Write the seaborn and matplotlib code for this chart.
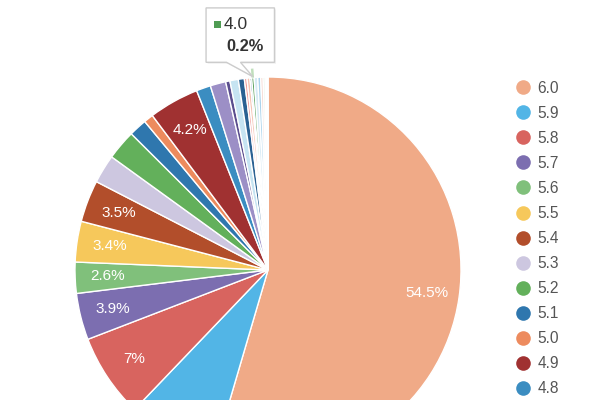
import numpy as np
import matplotlib
matplotlib.use("Agg")
import matplotlib.pyplot as plt
from matplotlib.lines import Line2D
from matplotlib.patches import Wedge, Polygon, Rectangle
import seaborn as sns

# magnitude classes and their share of events (percent)
magnitudes = ['6.0', '5.9', '5.8', '5.7', '5.6', '5.5', '5.4', '5.3', '5.2', '5.1',
              '5.0', '4.9', '4.8', '4.7', '4.6', '4.5', '4.4', '4.3', '4.2', '4.1',
              '4.0', '3.9', '3.8', '3.7', '3.6', '3.5', '3.4', '3.3']
shares = [54.5, 7.6, 7.0, 3.9, 2.6, 3.4, 3.5, 2.4, 2.5, 1.5,
          0.8, 4.2, 1.2, 1.3, 0.36, 0.7, 0.5, 0.22, 0.25, 0.14,
          0.2, 0.3, 0.25, 0.2, 0.15, 0.12, 0.08, 0.05]
colors = ['#f0aa87', '#52b5e6', '#d8645f', '#7c6eb0', '#80c07b', '#f6c85b', '#b24e2b',
          '#cdc7e0', '#63b05b', '#2f77ae', '#ed8b5e', '#a03131', '#3b8dc1', '#9c8fc6',
          '#5b4e8e', '#c6e4f2', '#2a6192', '#ef9d9c', '#f6c3b2', '#245f8f', '#4f9c53',
          '#d6eaf5', '#a9d3ec', '#f3d4cc', '#b9dcb5', '#e6e0f0', '#9fc9e6', '#f2b8a8']
hovered = '4.0'

sns.set_theme(style="white")
plt.rcParams['font.family'] = ['Liberation Sans', 'DejaVu Sans']

total = sum(shares)


def pct_label(p):
    if p < 2.55:
        return ''
    return f"{round(p, 1):g}%"


fig = plt.figure(figsize=(6, 4), dpi=100)
ax = fig.add_axes([0, 0, 1, 1])

R = 193
wedges, texts, autotexts = ax.pie(
    shares, colors=colors, radius=R, startangle=90, counterclock=False,
    autopct=pct_label, pctdistance=0.83,
    wedgeprops=dict(edgecolor='white', linewidth=1),
    textprops=dict(color='white', fontsize=11),
)

# hover halo on the highlighted slice
hi = magnitudes.index(hovered)
w = wedges[hi]
ax.add_patch(Wedge((0, 0), R + 9, w.theta1, w.theta2, width=9,
                   facecolor='#b9dcb5', edgecolor='none', alpha=0.9))

# tooltip anchored to the hovered slice
mid = np.deg2rad((w.theta1 + w.theta2) / 2)
tx, ty = (R + 1) * np.cos(mid), (R + 1) * np.sin(mid)
box = [(-26.3, 14.3), (-46.7, 14.3), (-46.7, 68.7), (21.7, 68.7),
       (21.7, 14.3), (-12.3, 14.3), (0, 0)]
ax.add_patch(Polygon([(tx + bx + 1.5, ty + by - 1.5) for bx, by in box], closed=True,
                     facecolor='#000000', alpha=0.06, edgecolor='none', zorder=9))
ax.add_patch(Polygon([(tx + bx, ty + by) for bx, by in box], closed=True,
                     facecolor='white', edgecolor='#cccccc', linewidth=1, zorder=10))
ax.add_patch(Rectangle((tx - 38.5, ty + 48.5), 7, 7, facecolor=colors[hi],
                       edgecolor='none', zorder=11))
ax.text(tx - 29.5, ty + 52, hovered, fontsize=12.5, color='#333333',
        va='center', ha='left', zorder=11)
ax.text(tx - 26, ty + 30.5, f"{shares[hi] / total * 100:.1f}%", fontsize=11.8,
        color='#333333', fontweight='bold', va='center', ha='left', zorder=11)

ax.set_xlim(-268, 332)
ax.set_ylim(-130, 270)
ax.axis('off')

handles = [Line2D([0], [0], marker='o', linestyle='none', markersize=10.5,
                  markerfacecolor=c, markeredgecolor='none') for c in colors]
fig.legend(handles, magnitudes, loc='upper left', bbox_to_anchor=(0.858, 0.798),
           frameon=False, borderpad=0, borderaxespad=0, handlelength=1.0,
           handletextpad=0.45, labelspacing=0.645, fontsize=11.2, labelcolor='#555555')

fig.savefig('out.png', dpi=100)
